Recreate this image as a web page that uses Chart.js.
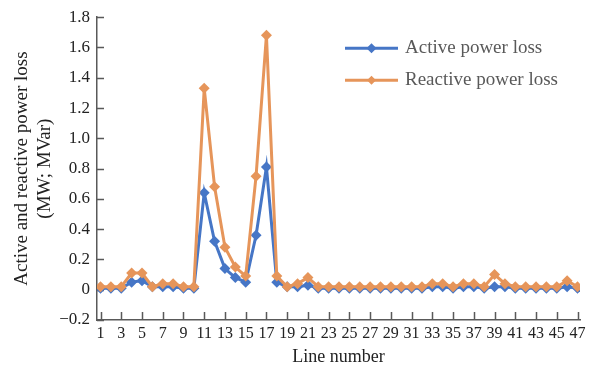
<!DOCTYPE html>
<html>
<head>
<meta charset="utf-8">
<script src="https://cdn.jsdelivr.net/npm/chart.js@4.4.1/dist/chart.umd.min.js"></script>
<style>
  html, body { margin: 0; padding: 0; background: #fff; }
  canvas { display: block; }
</style>
</head>
<body>
<canvas id="lossChart" width="591" height="376"></canvas>
<script>
// line numbers and losses per line
const lineNumbers = [1, 2, 3, 4, 5, 6, 7, 8, 9, 10, 11, 12, 13, 14, 15, 16, 17, 18, 19, 20, 21, 22, 23, 24,
  25, 26, 27, 28, 29, 30, 31, 32, 33, 34, 35, 36, 37, 38, 39, 40, 41, 42, 43, 44, 45, 46, 47];
const labelledLines = [1, 3, 5, 7, 9, 11, 13, 15, 17, 19, 21, 23, 25, 27, 29, 31, 33, 35, 37, 39, 41, 43, 45, 47];

const activeLoss = [0.01, 0.01, 0.01, 0.05, 0.06, 0.02, 0.02, 0.02, 0.01, 0.01,
  0.64, 0.32, 0.14, 0.08, 0.05, 0.36, 0.81, 0.05, 0.02, 0.02, 0.03,
  0.01, 0.01, 0.01, 0.01, 0.01, 0.01, 0.01, 0.01, 0.01, 0.01, 0.01,
  0.02, 0.02, 0.01, 0.02, 0.02, 0.01, 0.02, 0.02, 0.01, 0.01, 0.01, 0.01, 0.01, 0.02, 0.01];
const reactiveLoss = [0.02, 0.02, 0.02, 0.11, 0.11, 0.02, 0.04, 0.04, 0.02, 0.02,
  1.33, 0.68, 0.28, 0.15, 0.09, 0.75, 1.68, 0.09, 0.02, 0.04, 0.08,
  0.02, 0.02, 0.02, 0.02, 0.02, 0.02, 0.02, 0.02, 0.02, 0.02, 0.02,
  0.04, 0.04, 0.02, 0.04, 0.04, 0.02, 0.10, 0.04, 0.02, 0.02, 0.02, 0.02, 0.02, 0.06, 0.02];

const yTicks = [-0.2, 0, 0.2, 0.4, 0.6, 0.8, 1.0, 1.2, 1.4, 1.6, 1.8];

const blue = '#4676C6';
const orange = '#E6955A';
const axisColor = '#595959';
const serif = "'Liberation Serif', 'Times New Roman', serif";

const toPoints = (values) => lineNumbers.map((n, i) => ({ x: n, y: values[i] }));

// tick marks point into the plot, so they are drawn by hand
const innerTicks = {
  id: 'innerTicks',
  beforeDatasetsDraw(chart) {
    const { ctx, chartArea, scales } = chart;
    ctx.save();
    ctx.strokeStyle = axisColor;
    ctx.lineWidth = 1.5;
    ctx.beginPath();
    yTicks.forEach(v => {
      const y = Math.round(scales.y.getPixelForValue(v)) + 0.5;
      ctx.moveTo(chartArea.left, y);
      ctx.lineTo(chartArea.left + 7, y);
    });
    labelledLines.forEach(v => {
      const x = Math.round(scales.x.getPixelForValue(v)) + 0.5;
      ctx.moveTo(x, chartArea.bottom);
      ctx.lineTo(x, chartArea.bottom - 8);
    });
    ctx.stroke();
    ctx.restore();
  }
};

// legend sits inside the plot, top right
const innerLegend = {
  id: 'innerLegend',
  afterDraw(chart) {
    const { ctx, chartArea } = chart;
    const x0 = chartArea.left + 248;
    const rows = [
      { text: 'Active power loss', color: blue, y: chartArea.top + 31, r: 5 },
      { text: 'Reactive power loss', color: orange, y: chartArea.top + 63, r: 4.5 }
    ];
    ctx.save();
    rows.forEach(row => {
      ctx.strokeStyle = row.color;
      ctx.fillStyle = row.color;
      ctx.lineWidth = 3;
      ctx.beginPath();
      ctx.moveTo(x0, row.y);
      ctx.lineTo(x0 + 53, row.y);
      ctx.stroke();
      const cx = x0 + 26.5;
      ctx.beginPath();
      ctx.moveTo(cx, row.y - row.r);
      ctx.lineTo(cx + row.r, row.y);
      ctx.lineTo(cx, row.y + row.r);
      ctx.lineTo(cx - row.r, row.y);
      ctx.closePath();
      ctx.fill();
      ctx.fillStyle = '#595959';
      ctx.font = '19px ' + serif;
      ctx.textBaseline = 'middle';
      ctx.textAlign = 'left';
      ctx.fillText(row.text, x0 + 60, row.y);
    });
    ctx.restore();
  }
};

const ctx = document.getElementById('lossChart');

new Chart(ctx, {
  type: 'line',
  data: {
    datasets: [
      {
        label: 'Active power loss',
        data: toPoints(activeLoss),
        borderColor: blue,
        backgroundColor: blue,
        borderWidth: 3,
        pointStyle: 'rectRot',
        pointRadius: 5.5,
        pointBorderWidth: 0,
        tension: 0,
        order: 1
      },
      {
        label: 'Reactive power loss',
        data: toPoints(reactiveLoss),
        borderColor: orange,
        backgroundColor: orange,
        borderWidth: 3,
        pointStyle: 'rectRot',
        pointRadius: 5.5,
        pointBorderWidth: 0,
        tension: 0,
        order: 0
      }
    ]
  },
  options: {
    responsive: false,
    animation: false,
    devicePixelRatio: 1,
    layout: { padding: { left: 0, right: 11, top: 16, bottom: 0 } },
    plugins: {
      legend: { display: false },
      tooltip: { enabled: false }
    },
    scales: {
      x: {
        type: 'linear',
        min: 0.66,
        max: 47.24,
        afterBuildTicks(scale) {
          scale.ticks = labelledLines.map(v => ({ value: v }));
        },
        afterFit(scale) { scale.height = 56; },
        grid: { display: false, drawTicks: false },
        border: { display: true, color: axisColor, width: 1.5 },
        ticks: {
          autoSkip: false,
          maxRotation: 0,
          padding: 4,
          color: '#222',
          font: { family: serif, size: 16 },
          callback: v => String(v)
        },
        title: {
          display: true,
          text: 'Line number',
          color: '#222',
          font: { family: serif, size: 18 },
          padding: { top: 0, bottom: 8 }
        }
      },
      y: {
        min: -0.2,
        max: 1.8,
        afterBuildTicks(scale) {
          scale.ticks = yTicks.map(v => ({ value: v }));
        },
        afterFit(scale) { scale.width = 97; },
        grid: { display: false, drawTicks: false },
        border: { display: true, color: axisColor, width: 1.5 },
        ticks: {
          padding: 7,
          color: '#222',
          font: { family: serif, size: 17 },
          callback: v => {
            const r = Math.round(v * 10) / 10;
            if (r === 0) return '0';
            if (r < 0) return '\u2212' + Math.abs(r).toFixed(1);
            return r.toFixed(1);
          }
        },
        title: {
          display: true,
          text: ['Active and reactive power loss', '(MW; MVar)'],
          color: '#222',
          font: { family: serif, size: 19, lineHeight: 1.2 },
          padding: { top: 10.5, bottom: 0 }
        }
      }
    }
  },
  plugins: [innerTicks, innerLegend]
});
</script>
</body>
</html>
